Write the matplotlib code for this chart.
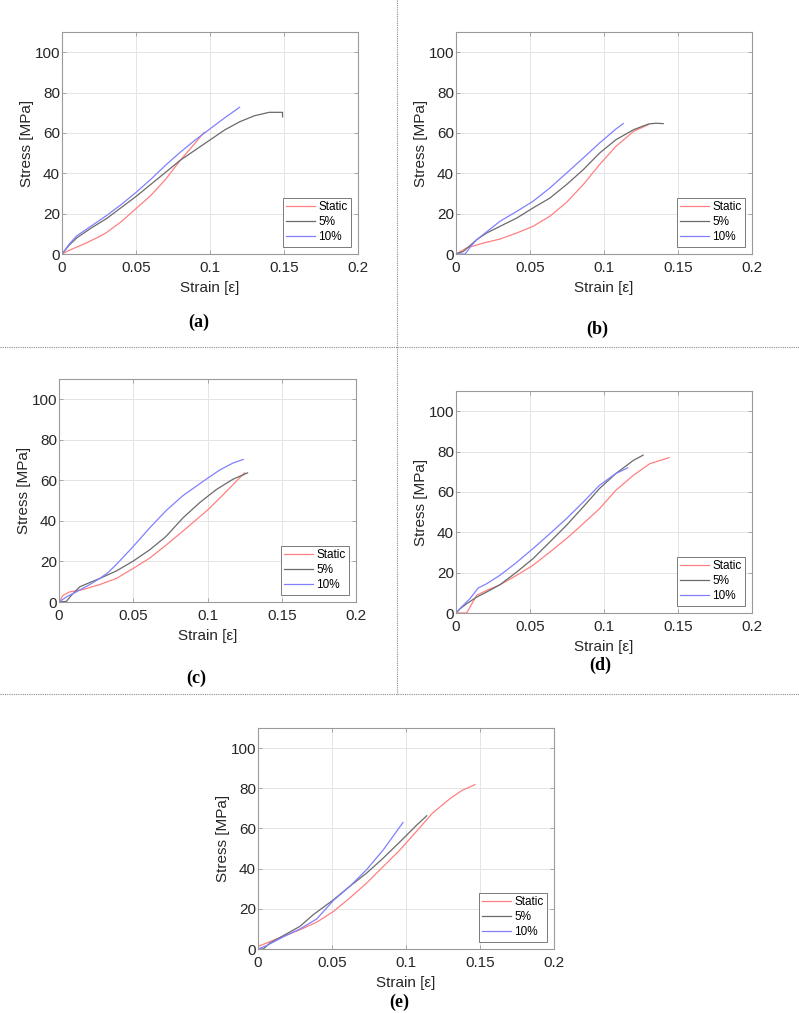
import matplotlib
matplotlib.use("Agg")
import matplotlib.pyplot as plt
from matplotlib.lines import Line2D

plt.rcParams["font.family"] = ["Liberation Sans", "DejaVu Sans"]

# ---- data (strain, stress MPa) ----
# (a)
a_static_x = [0, 0.004, 0.008, 0.015, 0.025, 0.03, 0.04, 0.05, 0.06, 0.07, 0.08, 0.09, 0.096]
a_static_y = [0, 1.5, 2.8, 5, 8.5, 10.6, 16, 22.5, 29, 37, 46.5, 55, 60.3]
a_5_x = [0, 0.005, 0.01, 0.02, 0.03, 0.04, 0.05, 0.06, 0.07, 0.08, 0.09, 0.1, 0.11, 0.12, 0.13, 0.14, 0.149, 0.149]
a_5_y = [0, 4.5, 8, 13, 17.5, 23, 28.5, 34.5, 40.5, 46.5, 51.5, 56.5, 61.5, 65.5, 68.5, 70.2, 70.2, 68]
a_10_x = [0, 0.005, 0.01, 0.02, 0.03, 0.04, 0.05, 0.06, 0.07, 0.08, 0.09, 0.1, 0.11, 0.12]
a_10_y = [0, 5, 9, 14, 19, 24.5, 30.5, 37, 44, 50.5, 56.5, 62, 67.5, 72.7]

# (b)
b_static_x = [0, 0.0072, 0.0184, 0.0297, 0.041, 0.052, 0.0634, 0.0747, 0.086, 0.097, 0.108, 0.12, 0.13]
b_static_y = [0, 3, 5.4, 7.4, 10.4, 13.7, 18.7, 25.6, 34.4, 44.3, 53.3, 60.8, 64.1]
b_5_x = [0, 0.005, 0.014, 0.0207, 0.0297, 0.041, 0.052, 0.0634, 0.0747, 0.086, 0.097, 0.108, 0.12, 0.13, 0.135, 0.14]
b_5_y = [0, 1.3, 7.1, 10.4, 13.7, 17.8, 22.8, 27.7, 34.4, 41.8, 50, 56.6, 61.6, 64.4, 64.8, 64.6]
b_10_x = [0, 0.0062, 0.01, 0.014, 0.0297, 0.041, 0.052, 0.0634, 0.0747, 0.086, 0.097, 0.108, 0.113]
b_10_y = [0, 0, 3.8, 7.1, 16.2, 21.1, 26.1, 32.7, 40.1, 47.6, 55, 61.9, 64.6]

# (c)
c_static_x = [0, 0.0027, 0.0072, 0.016, 0.0274, 0.0386, 0.05, 0.061, 0.072, 0.0835, 0.0947, 0.1, 0.11, 0.12, 0.125]
c_static_y = [0, 3.3, 5, 6.1, 8.6, 11.6, 16.6, 21.6, 28, 35, 42, 45.3, 52.5, 60, 63.7]
c_5_x = [0, 0.005, 0.0083, 0.014, 0.0207, 0.0274, 0.0386, 0.05, 0.061, 0.072, 0.0835, 0.0947, 0.106, 0.117, 0.127]
c_5_y = [0, 0.3, 3.3, 7.5, 9.6, 11.6, 15.3, 20.2, 25.7, 32.3, 41.5, 49, 55.5, 60.5, 63.7]
c_10_x = [0, 0.005, 0.0117, 0.0207, 0.0274, 0.033, 0.0386, 0.05, 0.061, 0.072, 0.0835, 0.0947, 0.1, 0.108, 0.117, 0.124]
c_10_y = [0, 2.5, 5, 8.6, 11.6, 14.5, 18.5, 27.4, 36.5, 45, 52.5, 58.3, 61, 65, 68.5, 70.3]

# (d)
d_static_x = [0, 0.0072, 0.014, 0.0207, 0.0297, 0.041, 0.052, 0.0634, 0.0747, 0.086, 0.097, 0.108, 0.12, 0.131, 0.144]
d_static_y = [0, 0, 8.8, 11.2, 14, 18.7, 23.6, 30.2, 36.9, 44.3, 51.7, 60.8, 68.3, 74, 77]
d_5_x = [0, 0.0027, 0.0072, 0.014, 0.0207, 0.0297, 0.041, 0.052, 0.0634, 0.0747, 0.086, 0.097, 0.108, 0.12, 0.1264]
d_5_y = [0, 2.1, 4.6, 7.9, 10.4, 14, 20.3, 26.9, 35.2, 43.5, 52.6, 61.7, 69.1, 75.7, 78.2]
d_10_x = [0, 0.0038, 0.0094, 0.015, 0.0207, 0.0297, 0.04, 0.052, 0.0634, 0.0747, 0.086, 0.097, 0.108, 0.116]
d_10_y = [0, 3, 7.1, 12.4, 14.5, 18.7, 24.5, 31.9, 39.3, 46.8, 55, 63.3, 69.1, 71.9]

# (e)
e_static_x = [0, 0.0059, 0.017, 0.0284, 0.0396, 0.051, 0.062, 0.0734, 0.0847, 0.096, 0.107, 0.118, 0.13, 0.138, 0.1466]
e_static_y = [1.3, 3, 6.3, 9.6, 13.3, 18.7, 25.4, 32.8, 41.1, 49.4, 58.5, 67.7, 75, 79, 81.8]
e_5_x = [0, 0.0036, 0.0081, 0.017, 0.0284, 0.0374, 0.051, 0.062, 0.0734, 0.0847, 0.096, 0.107, 0.114]
e_5_y = [0, 0, 3, 6.6, 11.3, 17.1, 24.5, 31.2, 37.8, 45.3, 53.4, 61.5, 66.3]
e_10_x = [0, 0.0059, 0.017, 0.0284, 0.0396, 0.051, 0.062, 0.0734, 0.0847, 0.098]
e_10_y = [0, 1.7, 6, 10, 14.9, 24.2, 31.2, 39.5, 49.4, 63]

series_labels = ["Static", "5%", "10%"]
series_colors = ["#ff8080", "#6a6a6a", "#8080ff"]
x_ticks = [0, 0.05, 0.1, 0.15, 0.2]
x_ticklabels = ["0", "0.05", "0.1", "0.15", "0.2"]
y_ticks = [0, 20, 40, 60, 80, 100]

panels = [
    ("(a)", (62, 32, 358, 254), (199, 322),
     [(a_static_x, a_static_y), (a_5_x, a_5_y), (a_10_x, a_10_y)]),
    ("(b)", (456, 32, 752, 254), (597, 329),
     [(b_static_x, b_static_y), (b_5_x, b_5_y), (b_10_x, b_10_y)]),
    ("(c)", (59, 379, 356, 602), (196, 678),
     [(c_static_x, c_static_y), (c_5_x, c_5_y), (c_10_x, c_10_y)]),
    ("(d)", (456, 391, 752, 613), (600, 665),
     [(d_static_x, d_static_y), (d_5_x, d_5_y), (d_10_x, d_10_y)]),
    ("(e)", (258, 728, 554, 949), (399, 1002),
     [(e_static_x, e_static_y), (e_5_x, e_5_y), (e_10_x, e_10_y)]),
]

W, H = 799, 1013
fig = plt.figure(figsize=(W / 100, H / 100), dpi=100)

for tag, (x0, y0, x1, y1), (tx, ty), curves in panels:
    ax = fig.add_axes([x0 / W, 1 - y1 / H, (x1 - x0) / W, (y1 - y0) / H])
    for (xs, ys), lab, col in zip(curves, series_labels, series_colors):
        ax.plot(xs, ys, color=col, linewidth=0.9, label=lab)
    ax.set_xlim(0, 0.2)
    ax.set_ylim(0, 110)
    ax.set_xticks(x_ticks)
    ax.set_xticklabels(x_ticklabels)
    ax.set_yticks(y_ticks)
    ax.grid(True, color="#e4e4e4", linewidth=0.7)
    ax.set_axisbelow(True)
    for s in ax.spines.values():
        s.set_color("#9a9a9a")
        s.set_linewidth(0.8)
    ax.tick_params(direction="in", length=3, width=0.6, color="#9a9a9a",
                   labelsize=11, labelcolor="#262626", top=True, right=True)
    ax.tick_params(axis="x", pad=5)
    ax.tick_params(axis="y", pad=1.5)
    ax.set_xlabel("Strain [ε]", fontsize=11, color="#262626", labelpad=4.5)
    ax.set_ylabel("Stress [MPa]", fontsize=11, color="#262626", labelpad=0)
    leg = ax.legend(loc="lower right", fontsize=8.5, frameon=True, fancybox=False,
                    handlelength=2.4, handletextpad=0.3, labelspacing=0.25,
                    borderpad=0.3, borderaxespad=0.6, framealpha=1)
    leg.get_frame().set_edgecolor("#7a7a7a")
    leg.get_frame().set_linewidth(0.7)
    fig.text(tx / W, 1 - ty / H, tag, ha="center", va="center", fontsize=13,
             fontweight="bold", family=["Liberation Serif", "DejaVu Serif"])

# dotted separators between panels
sep = dict(color="#8c8c8c", linestyle=(0, (1, 1)), linewidth=0.8)
fig.add_artist(Line2D([0, 1], [1 - 347 / H, 1 - 347 / H], transform=fig.transFigure, **sep))
fig.add_artist(Line2D([0, 1], [1 - 694 / H, 1 - 694 / H], transform=fig.transFigure, **sep))
fig.add_artist(Line2D([397 / W, 397 / W], [1, 1 - 694 / H], transform=fig.transFigure, **sep))

fig.savefig("out.png", dpi=100, facecolor="white")
